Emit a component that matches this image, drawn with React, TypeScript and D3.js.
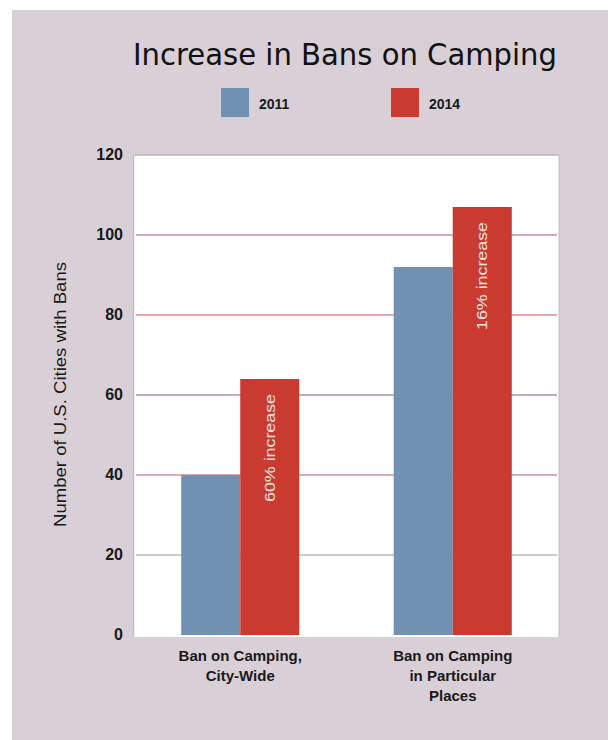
import React from "react";
import * as d3 from "d3";

const categories = ["Ban on Camping, City-Wide", "Ban on Camping in Particular Places"];
const categoryLines = [
  ["Ban on Camping,", "City-Wide"],
  ["Ban on Camping", "in Particular", "Places"],
];
const seriesNames = ["2011", "2014"];
const values2011 = [40, 92];
const values2014 = [64, 107];
const annotations = ["60% increase", "16% increase"];
const yTicks = [0, 20, 40, 60, 80, 100, 120];
const gridColors: Record<number, string> = {
  20: "#8a8490",
  40: "#a3404e",
  60: "#6b3d6e",
  80: "#c8303e",
  100: "#853a7e",
};
const seriesColors = ["#7091b2", "#c93a30"];

const W = 608;
const H = 740;
const plot = { left: 134, right: 559, top: 155, bottom: 635 };

export default function App() {
  const y = d3.scaleLinear().domain([0, 120]).range([plot.bottom, plot.top]);
  const x0 = d3.scaleBand<string>().domain(categories).range([plot.left, plot.right]).paddingInner(0).paddingOuter(0);
  const x1 = d3.scaleBand<string>().domain(seriesNames).range([0, x0.bandwidth()]).paddingInner(0).paddingOuter(0.8);
  const series = [values2011, values2014];
  const font = "'Liberation Sans', Arial, Helvetica, sans-serif";

  return (
    <svg width={W} height={H} style={{ position: "absolute", left: 0, top: 0, display: "block" }}>
      <rect x={0} y={0} width={W} height={H} fill="#ffffff" />
      <rect x={12} y={10} width={W - 12} height={H - 10} fill="#d8cfd7" />
      {/* plot area */}
      <rect x={plot.left} y={plot.top} width={plot.right - plot.left} height={plot.bottom - plot.top + 2} fill="#ffffff" />
      <line x1={plot.left} x2={plot.right} y1={y(120)} y2={y(120)} stroke="#b8b2bc" strokeWidth={1.5} />
      <line x1={plot.left - 0.5} x2={plot.left - 0.5} y1={plot.top} y2={plot.bottom + 2} stroke="#c4bec8" strokeWidth={1.5} />
      <line x1={plot.right} x2={plot.right} y1={plot.top} y2={plot.bottom + 2} stroke="#c4bec8" strokeWidth={1} />
      {yTicks.filter((t) => t > 0 && t < 120).map((t) => (
        <line key={t} x1={plot.left + 2} x2={plot.right - 2} y1={y(t)} y2={y(t)} stroke={gridColors[t]} strokeWidth={1} opacity={0.85} />
      ))}
      {/* bars */}
      {categories.map((c, i) => (
        <g key={c} transform={`translate(${x0(c)},0)`}>
          {seriesNames.map((s, j) => (
            <rect
              key={s}
              x={x1(s)}
              y={y(series[j][i])}
              width={x1.bandwidth()}
              height={y(0) - y(series[j][i])}
              fill={seriesColors[j]}
            />
          ))}
          <text
            transform={`translate(${(x1("2014") as number) + x1.bandwidth() / 2},${y(values2014[i]) + 15}) rotate(-90)`}
            textAnchor="end"
            dominantBaseline="central"
            fontFamily={font}
            fontSize={14}
            fill="#f6e4e2"
            textLength={108}
            lengthAdjust="spacingAndGlyphs"
          >
            {annotations[i]}
          </text>
        </g>
      ))}
      {/* y ticks */}
      {yTicks.map((t) => (
        <text key={t} x={123} y={y(t) - 1} textAnchor="end" dominantBaseline="central" fontFamily={font} fontWeight="bold" fontSize={16} fill="#1a1a1a">
          {t}
        </text>
      ))}
      {/* y axis title */}
      <text
        transform={`translate(60,${(262 + 527) / 2}) rotate(-90)`}
        textAnchor="middle"
        dominantBaseline="central"
        fontFamily={font}
        fontSize={16}
        fill="#1a1a1a"
        textLength={265}
        lengthAdjust="spacingAndGlyphs"
      >
        Number of U.S. Cities with Bans
      </text>
      {/* category labels */}
      {categories.map((c, i) => (
        <text key={c} textAnchor="middle" fontFamily={font} fontWeight="bold" fontSize={15} fill="#1a1a1a">
          {categoryLines[i].map((ln, k) => (
            <tspan key={k} x={(x0(c) as number) + x0.bandwidth() / 2} y={661 + k * 20}>
              {ln}
            </tspan>
          ))}
        </text>
      ))}
      {/* title */}
      <text
        x={345}
        y={65}
        textAnchor="middle"
        fontFamily="'DejaVu Sans', 'Liberation Sans', sans-serif"
        fontSize={30}
        fill="#111"
        textLength={424}
        lengthAdjust="spacingAndGlyphs"
      >
        Increase in Bans on Camping
      </text>
      {/* legend */}
      {seriesNames.map((s, j) => {
        const sx = [221, 391][j];
        return (
          <g key={s}>
            <rect x={sx} y={88} width={28} height={29} fill={seriesColors[j]} />
            <text x={sx + 38} y={104} dominantBaseline="central" fontFamily={font} fontWeight="bold" fontSize={14} fill="#1a1a1a">
              {s}
            </text>
          </g>
        );
      })}
    </svg>
  );
}
